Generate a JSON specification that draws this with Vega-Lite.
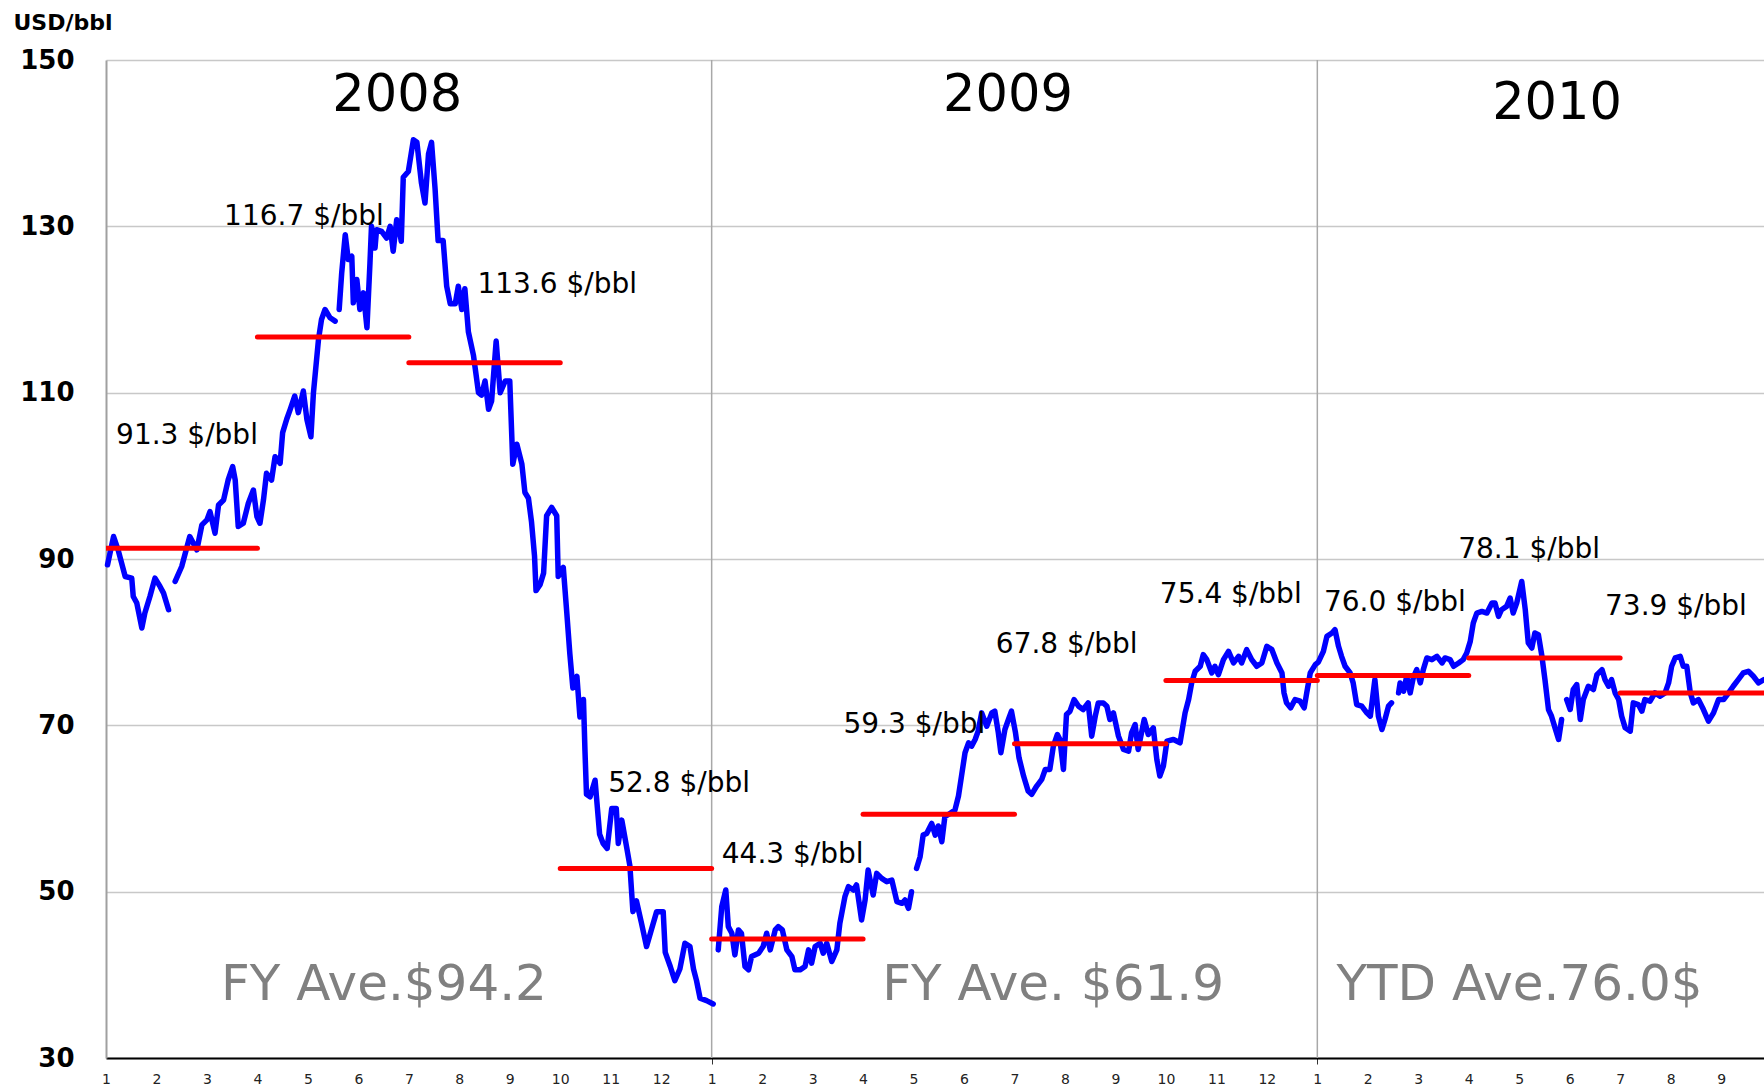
{
  "$schema": "https://vega.github.io/schema/vega-lite/v6.json",
  "width": 1658,
  "height": 998,
  "autosize": {"type": "none"},
  "padding": {"left": 106, "top": 60, "right": 0, "bottom": 30},
  "background": "white",
  "config": {"view": {"stroke": null}, "font": "DejaVu Sans"},
  "datasets": {
    "price": [
      {"m":0.03,"v":89.3,"s":1},{"m":0.15,"v":92.7,"s":1},{"m":0.24,"v":91.1,"s":1},{"m":0.38,"v":87.9,"s":1},{"m":0.51,"v":87.7,"s":1},{"m":0.54,"v":85.5,"s":1},{"m":0.61,"v":84.7,"s":1},{"m":0.71,"v":81.7,"s":1},{"m":0.77,"v":83.5,"s":1},{"m":0.87,"v":85.5,"s":1},{"m":0.97,"v":87.7,"s":1},{"m":1.07,"v":86.7,"s":1},{"m":1.14,"v":85.9,"s":1},{"m":1.24,"v":83.9,"s":1},
      {"m":1.37,"v":87.3,"s":2},{"m":1.50,"v":89.1,"s":2},{"m":1.66,"v":92.7,"s":2},{"m":1.80,"v":91.1,"s":2},{"m":1.90,"v":94.1,"s":2},{"m":2.00,"v":94.7,"s":2},{"m":2.06,"v":95.7,"s":2},{"m":2.16,"v":93.1,"s":2},{"m":2.23,"v":96.5,"s":2},{"m":2.33,"v":97.1,"s":2},{"m":2.42,"v":99.5,"s":2},{"m":2.51,"v":101.1,"s":2},{"m":2.56,"v":99.5,"s":2},{"m":2.62,"v":93.9,"s":2},{"m":2.72,"v":94.3,"s":2},{"m":2.82,"v":96.7,"s":2},{"m":2.92,"v":98.3,"s":2},{"m":2.99,"v":95.1,"s":2},{"m":3.05,"v":94.3,"s":2},{"m":3.12,"v":97.1,"s":2},{"m":3.18,"v":100.3,"s":2},{"m":3.28,"v":99.5,"s":2},{"m":3.35,"v":102.3,"s":2},{"m":3.45,"v":101.5,"s":2},{"m":3.50,"v":105.2,"s":2},{"m":3.58,"v":106.8,"s":2},{"m":3.65,"v":108.0,"s":2},{"m":3.74,"v":109.6,"s":2},{"m":3.81,"v":107.6,"s":2},{"m":3.91,"v":110.2,"s":2},{"m":3.98,"v":106.8,"s":2},{"m":4.06,"v":104.7,"s":2},{"m":4.11,"v":110.0,"s":2},{"m":4.21,"v":116.4,"s":2},{"m":4.27,"v":118.8,"s":2},{"m":4.34,"v":120.0,"s":2},{"m":4.44,"v":119.0,"s":2},{"m":4.54,"v":118.6,"s":2},
      {"m":4.62,"v":120.0,"s":3},{"m":4.67,"v":124.4,"s":3},{"m":4.74,"v":129.0,"s":3},{"m":4.80,"v":126.0,"s":3},{"m":4.87,"v":126.4,"s":3},{"m":4.90,"v":120.8,"s":3},{"m":4.97,"v":123.6,"s":3},{"m":5.03,"v":120.0,"s":3},{"m":5.10,"v":122.0,"s":3},{"m":5.17,"v":117.8,"s":3},{"m":5.23,"v":125.6,"s":3},{"m":5.26,"v":130.0,"s":3},{"m":5.33,"v":127.4,"s":3},{"m":5.36,"v":129.6,"s":3},{"m":5.46,"v":129.4,"s":3},{"m":5.56,"v":128.6,"s":3},{"m":5.63,"v":130.0,"s":3},{"m":5.69,"v":127.0,"s":3},{"m":5.76,"v":130.8,"s":3},{"m":5.80,"v":130.0,"s":3},{"m":5.85,"v":128.2,"s":3},{"m":5.89,"v":135.9,"s":3},{"m":5.99,"v":136.6,"s":3},{"m":6.09,"v":140.4,"s":3},{"m":6.16,"v":140.1,"s":3},{"m":6.25,"v":135.2,"s":3},{"m":6.32,"v":132.8,"s":3},{"m":6.39,"v":138.7,"s":3},{"m":6.45,"v":140.1,"s":3},{"m":6.52,"v":134.5,"s":3},{"m":6.58,"v":128.3,"s":3},{"m":6.68,"v":128.3,"s":3},{"m":6.75,"v":122.8,"s":3},{"m":6.82,"v":120.7,"s":3},{"m":6.92,"v":120.7,"s":3},{"m":6.98,"v":122.8,"s":3},{"m":7.05,"v":120.0,"s":3},{"m":7.11,"v":122.5,"s":3},{"m":7.18,"v":117.3,"s":3},{"m":7.28,"v":114.5,"s":3},{"m":7.38,"v":110.0,"s":3},{"m":7.44,"v":109.7,"s":3},{"m":7.51,"v":111.4,"s":3},{"m":7.58,"v":108.0,"s":3},{"m":7.64,"v":109.0,"s":3},{"m":7.73,"v":116.2,"s":3},{"m":7.81,"v":110.0,"s":3},{"m":7.91,"v":111.4,"s":3},{"m":8.00,"v":111.4,"s":3},{"m":8.06,"v":101.4,"s":3},{"m":8.14,"v":103.8,"s":3},{"m":8.24,"v":101.4,"s":3},{"m":8.30,"v":98.0,"s":3},{"m":8.37,"v":97.3,"s":3},{"m":8.43,"v":94.5,"s":3},{"m":8.49,"v":90.4,"s":3},{"m":8.52,"v":86.2,"s":3},{"m":8.60,"v":86.9,"s":3},{"m":8.67,"v":88.3,"s":3},{"m":8.73,"v":95.2,"s":3},{"m":8.83,"v":96.2,"s":3},{"m":8.93,"v":95.2,"s":3},{"m":8.96,"v":87.9,"s":3},{"m":9.06,"v":89.0,"s":3},{"m":9.13,"v":83.5,"s":3},{"m":9.19,"v":78.6,"s":3},{"m":9.25,"v":74.5,"s":3},{"m":9.33,"v":75.9,"s":3},{"m":9.39,"v":71.0,"s":3},{"m":9.46,"v":73.1,"s":3},{"m":9.49,"v":66.9,"s":3},{"m":9.52,"v":61.7,"s":3},{"m":9.59,"v":61.4,"s":3},{"m":9.69,"v":63.4,"s":3},{"m":9.78,"v":56.9,"s":3},{"m":9.85,"v":55.8,"s":3},{"m":9.93,"v":55.2,"s":3},{"m":10.02,"v":60.0,"s":3},{"m":10.11,"v":60.0,"s":3},{"m":10.15,"v":55.8,"s":3},{"m":10.22,"v":58.6,"s":3},{"m":10.32,"v":55.2,"s":3},{"m":10.38,"v":53.1,"s":3},{"m":10.44,"v":47.6,"s":3},{"m":10.51,"v":48.9,"s":3},{"m":10.61,"v":46.2,"s":3},{"m":10.71,"v":43.4,"s":3},{"m":10.81,"v":45.5,"s":3},{"m":10.91,"v":47.6,"s":3},{"m":11.04,"v":47.6,"s":3},{"m":11.08,"v":42.7,"s":3},{"m":11.18,"v":41.0,"s":3},{"m":11.27,"v":39.3,"s":3},{"m":11.37,"v":40.7,"s":3},{"m":11.47,"v":43.8,"s":3},{"m":11.57,"v":43.4,"s":3},{"m":11.64,"v":40.7,"s":3},{"m":11.70,"v":39.3,"s":3},{"m":11.77,"v":37.2,"s":3},{"m":11.90,"v":36.9,"s":3},{"m":12.03,"v":36.5,"s":3},
      {"m":12.13,"v":43.0,"s":4},{"m":12.20,"v":48.2,"s":4},{"m":12.28,"v":50.2,"s":4},{"m":12.33,"v":45.8,"s":4},{"m":12.40,"v":45.0,"s":4},{"m":12.46,"v":42.4,"s":4},{"m":12.53,"v":45.4,"s":4},{"m":12.59,"v":45.0,"s":4},{"m":12.66,"v":41.0,"s":4},{"m":12.73,"v":40.6,"s":4},{"m":12.79,"v":42.2,"s":4},{"m":12.93,"v":42.6,"s":4},{"m":13.02,"v":43.4,"s":4},{"m":13.09,"v":45.0,"s":4},{"m":13.16,"v":43.0,"s":4},{"m":13.26,"v":45.4,"s":4},{"m":13.32,"v":45.8,"s":4},{"m":13.40,"v":45.4,"s":4},{"m":13.49,"v":43.0,"s":4},{"m":13.59,"v":42.2,"s":4},{"m":13.65,"v":40.6,"s":4},{"m":13.75,"v":40.6,"s":4},{"m":13.85,"v":41.0,"s":4},{"m":13.92,"v":43.0,"s":4},{"m":13.98,"v":41.4,"s":4},{"m":14.05,"v":43.4,"s":4},{"m":14.15,"v":43.8,"s":4},{"m":14.21,"v":42.6,"s":4},{"m":14.28,"v":43.8,"s":4},{"m":14.38,"v":41.6,"s":4},{"m":14.48,"v":43.0,"s":4},{"m":14.54,"v":46.2,"s":4},{"m":14.64,"v":49.4,"s":4},{"m":14.71,"v":50.6,"s":4},{"m":14.81,"v":50.2,"s":4},{"m":14.87,"v":50.8,"s":4},{"m":14.97,"v":46.6,"s":4},{"m":15.04,"v":49.0,"s":4},{"m":15.10,"v":52.6,"s":4},{"m":15.20,"v":49.6,"s":4},{"m":15.27,"v":52.2,"s":4},{"m":15.37,"v":51.6,"s":4},{"m":15.47,"v":51.2,"s":4},{"m":15.57,"v":51.4,"s":4},{"m":15.67,"v":48.8,"s":4},{"m":15.77,"v":48.6,"s":4},{"m":15.83,"v":49.0,"s":4},{"m":15.90,"v":48.0,"s":4},{"m":15.96,"v":50.0,"s":4},
      {"m":16.06,"v":52.8,"s":5},{"m":16.13,"v":54.2,"s":5},{"m":16.19,"v":56.8,"s":5},{"m":16.26,"v":57.0,"s":5},{"m":16.36,"v":58.2,"s":5},{"m":16.43,"v":56.8,"s":5},{"m":16.49,"v":57.9,"s":5},{"m":16.56,"v":56.0,"s":5},{"m":16.62,"v":59.0,"s":5},{"m":16.72,"v":59.4,"s":5},{"m":16.82,"v":59.8,"s":5},{"m":16.89,"v":61.5,"s":5},{"m":16.95,"v":63.9,"s":5},{"m":17.02,"v":66.7,"s":5},{"m":17.09,"v":67.9,"s":5},{"m":17.15,"v":67.5,"s":5},{"m":17.22,"v":68.3,"s":5},{"m":17.28,"v":69.3,"s":5},{"m":17.35,"v":71.5,"s":5},{"m":17.45,"v":69.9,"s":5},{"m":17.55,"v":71.5,"s":5},{"m":17.61,"v":71.7,"s":5},{"m":17.68,"v":69.1,"s":5},{"m":17.73,"v":66.7,"s":5},{"m":17.81,"v":69.5,"s":5},{"m":17.88,"v":70.7,"s":5},{"m":17.94,"v":71.7,"s":5},{"m":18.02,"v":69.1,"s":5},{"m":18.09,"v":66.1,"s":5},{"m":18.18,"v":63.9,"s":5},{"m":18.27,"v":62.1,"s":5},{"m":18.34,"v":61.7,"s":5},{"m":18.44,"v":62.7,"s":5},{"m":18.54,"v":63.5,"s":5},{"m":18.61,"v":64.7,"s":5},{"m":18.70,"v":64.7,"s":5},{"m":18.77,"v":67.5,"s":5},{"m":18.85,"v":68.9,"s":5},{"m":18.90,"v":68.3,"s":5},{"m":18.97,"v":64.7,"s":5},{"m":19.03,"v":71.3,"s":5},{"m":19.10,"v":71.7,"s":5},{"m":19.18,"v":73.1,"s":5},{"m":19.27,"v":72.3,"s":5},{"m":19.36,"v":71.9,"s":5},{"m":19.46,"v":72.7,"s":5},{"m":19.53,"v":68.7,"s":5},{"m":19.60,"v":71.1,"s":5},{"m":19.66,"v":72.7,"s":5},{"m":19.76,"v":72.7,"s":5},{"m":19.83,"v":72.3,"s":5},{"m":19.89,"v":70.7,"s":5},{"m":19.96,"v":71.5,"s":5},{"m":20.06,"v":68.7,"s":5},{"m":20.16,"v":67.1,"s":5},{"m":20.26,"v":66.9,"s":5},{"m":20.32,"v":69.1,"s":5},{"m":20.39,"v":70.1,"s":5},{"m":20.45,"v":67.1,"s":5},{"m":20.57,"v":70.7,"s":5},{"m":20.65,"v":68.9,"s":5},{"m":20.75,"v":69.7,"s":5},{"m":20.82,"v":65.9,"s":5},{"m":20.88,"v":63.9,"s":5},{"m":20.95,"v":65.1,"s":5},{"m":21.02,"v":68.1,"s":5},{"m":21.15,"v":68.3,"s":5},{"m":21.28,"v":67.9,"s":5},{"m":21.38,"v":71.5,"s":5},{"m":21.45,"v":73.1,"s":5},{"m":21.51,"v":75.1,"s":5},{"m":21.58,"v":76.5,"s":5},{"m":21.68,"v":77.1,"s":5},{"m":21.74,"v":78.5,"s":5},{"m":21.81,"v":77.9,"s":5},{"m":21.91,"v":76.3,"s":5},{"m":21.97,"v":77.1,"s":5},{"m":22.04,"v":76.1,"s":5},{"m":22.14,"v":77.9,"s":5},{"m":22.24,"v":78.9,"s":5},{"m":22.34,"v":77.5,"s":5},{"m":22.44,"v":78.3,"s":5},{"m":22.50,"v":77.5,"s":5},{"m":22.60,"v":79.1,"s":5},{"m":22.70,"v":77.9,"s":5},{"m":22.80,"v":77.1,"s":5},{"m":22.90,"v":77.5,"s":5},{"m":23.00,"v":79.5,"s":5},{"m":23.10,"v":79.1,"s":5},{"m":23.20,"v":77.5,"s":5},{"m":23.30,"v":76.3,"s":5},{"m":23.34,"v":73.9,"s":5},{"m":23.39,"v":72.7,"s":5},{"m":23.47,"v":72.1,"s":5},{"m":23.56,"v":73.1,"s":5},{"m":23.66,"v":72.9,"s":5},{"m":23.74,"v":72.1,"s":5},{"m":23.79,"v":73.9,"s":5},{"m":23.86,"v":76.3,"s":5},{"m":23.96,"v":77.3,"s":5},{"m":24.02,"v":77.6,"s":5},{"m":24.12,"v":78.9,"s":5},{"m":24.19,"v":80.7,"s":5},{"m":24.29,"v":81.1,"s":5},{"m":24.35,"v":81.5,"s":5},{"m":24.42,"v":79.5,"s":5},{"m":24.48,"v":78.3,"s":5},{"m":24.55,"v":77.1,"s":5},{"m":24.65,"v":76.3,"s":5},{"m":24.71,"v":75.1,"s":5},{"m":24.78,"v":72.5,"s":5},{"m":24.88,"v":72.3,"s":5},{"m":24.98,"v":71.5,"s":5},{"m":25.05,"v":71.1,"s":5},{"m":25.14,"v":75.5,"s":5},{"m":25.21,"v":71.1,"s":5},{"m":25.28,"v":69.5,"s":5},{"m":25.34,"v":70.7,"s":5},{"m":25.41,"v":72.3,"s":5},{"m":25.47,"v":72.7,"s":5},
      {"m":25.61,"v":73.9,"s":6},{"m":25.64,"v":75.1,"s":6},{"m":25.71,"v":74.1,"s":6},{"m":25.77,"v":75.9,"s":6},{"m":25.84,"v":73.9,"s":6},{"m":25.90,"v":75.7,"s":6},{"m":25.97,"v":76.7,"s":6},{"m":26.04,"v":75.1,"s":6},{"m":26.10,"v":76.7,"s":6},{"m":26.17,"v":78.1,"s":6},{"m":26.27,"v":77.9,"s":6},{"m":26.37,"v":78.3,"s":6},{"m":26.47,"v":77.5,"s":6},{"m":26.53,"v":78.1,"s":6},{"m":26.63,"v":77.9,"s":6},{"m":26.70,"v":77.1,"s":6},{"m":26.80,"v":77.5,"s":6},{"m":26.89,"v":77.9,"s":6},{"m":26.96,"v":78.7,"s":6},{"m":27.03,"v":80.1,"s":6},{"m":27.09,"v":82.3,"s":6},{"m":27.16,"v":83.5,"s":6},{"m":27.26,"v":83.7,"s":6},{"m":27.36,"v":83.5,"s":6},{"m":27.46,"v":84.7,"s":6},{"m":27.52,"v":84.7,"s":6},{"m":27.59,"v":83.1,"s":6},{"m":27.65,"v":83.9,"s":6},{"m":27.75,"v":84.3,"s":6},{"m":27.82,"v":85.3,"s":6},{"m":27.88,"v":83.5,"s":6},{"m":27.95,"v":84.7,"s":6},{"m":28.05,"v":87.3,"s":6},{"m":28.12,"v":83.9,"s":6},{"m":28.18,"v":79.9,"s":6},{"m":28.25,"v":79.3,"s":6},{"m":28.31,"v":81.1,"s":6},{"m":28.38,"v":80.9,"s":6},{"m":28.45,"v":78.3,"s":6},{"m":28.51,"v":75.5,"s":6},{"m":28.58,"v":71.9,"s":6},{"m":28.64,"v":71.1,"s":6},{"m":28.71,"v":69.7,"s":6},{"m":28.78,"v":68.3,"s":6},{"m":28.84,"v":70.7,"s":6},
      {"m":28.94,"v":73.1,"s":7},{"m":29.01,"v":71.9,"s":7},{"m":29.07,"v":74.3,"s":7},{"m":29.14,"v":74.9,"s":7},{"m":29.21,"v":70.7,"s":7},{"m":29.27,"v":73.1,"s":7},{"m":29.37,"v":74.7,"s":7},{"m":29.47,"v":74.3,"s":7},{"m":29.54,"v":76.1,"s":7},{"m":29.64,"v":76.7,"s":7},{"m":29.70,"v":75.5,"s":7},{"m":29.77,"v":74.7,"s":7},{"m":29.83,"v":75.5,"s":7},{"m":29.90,"v":73.9,"s":7},{"m":29.97,"v":73.1,"s":7},{"m":30.03,"v":71.1,"s":7},{"m":30.10,"v":69.7,"s":7},{"m":30.20,"v":69.3,"s":7},{"m":30.26,"v":72.7,"s":7},{"m":30.36,"v":72.5,"s":7},{"m":30.43,"v":71.7,"s":7},{"m":30.49,"v":73.1,"s":7},{"m":30.59,"v":72.9,"s":7},{"m":30.69,"v":73.9,"s":7},{"m":30.79,"v":73.5,"s":7},{"m":30.89,"v":73.9,"s":7},{"m":30.96,"v":75.1,"s":7},{"m":31.02,"v":77.1,"s":7},{"m":31.09,"v":78.1,"s":7},{"m":31.19,"v":78.3,"s":7},{"m":31.25,"v":77.1,"s":7},{"m":31.32,"v":77.1,"s":7},{"m":31.39,"v":73.9,"s":7},{"m":31.45,"v":72.7,"s":7},{"m":31.55,"v":73.1,"s":7},{"m":31.65,"v":71.9,"s":7},{"m":31.75,"v":70.5,"s":7},{"m":31.85,"v":71.5,"s":7},{"m":31.95,"v":73.1,"s":7},{"m":32.05,"v":73.1,"s":7},{"m":32.15,"v":73.9,"s":7},{"m":32.24,"v":74.7,"s":7},{"m":32.34,"v":75.5,"s":7},{"m":32.44,"v":76.3,"s":7},{"m":32.54,"v":76.5,"s":7},{"m":32.64,"v":75.9,"s":7},{"m":32.74,"v":75.1,"s":7},{"m":32.85,"v":75.5,"s":7}
    ],
    "quarters": [
      {"start":0,"end":3,"avg":91.3},{"start":3,"end":6,"avg":116.7},{"start":6,"end":9,"avg":113.6},{"start":9,"end":12,"avg":52.8},
      {"start":12,"end":15,"avg":44.3},{"start":15,"end":18,"avg":59.3},{"start":18,"end":21,"avg":67.8},{"start":21,"end":24,"avg":75.4},
      {"start":24,"end":27,"avg":76.0},{"start":27,"end":30,"avg":78.1},{"start":30,"end":33,"avg":73.9}
    ],
    "qlabels": [
      {"m":0.2,"v":104.75,"label":"91.3 $/bbl"},{"m":2.34,"v":131.1,"label":"116.7 $/bbl"},{"m":7.36,"v":122.95,"label":"113.6 $/bbl"},{"m":9.95,"v":62.9,"label":"52.8 $/bbl"},
      {"m":12.2,"v":54.4,"label":"44.3 $/bbl"},{"m":14.61,"v":70.1,"label":"59.3 $/bbl"},{"m":17.63,"v":79.7,"label":"67.8 $/bbl"},{"m":20.88,"v":85.7,"label":"75.4 $/bbl"},
      {"m":24.13,"v":84.7,"label":"76.0 $/bbl"},{"m":26.79,"v":91.1,"label":"78.1 $/bbl"},{"m":29.7,"v":84.2,"label":"73.9 $/bbl"}
    ],
    "years": [
      {"m":5.77,"v":145.7,"label":"2008"},{"m":17.87,"v":145.7,"label":"2009"},{"m":28.75,"v":144.7,"label":"2010"}
    ],
    "fy": [
      {"m":2.28,"v":38.8,"label":"FY Ave.$94.2"},{"m":15.38,"v":38.8,"label":"FY Ave. $61.9"},{"m":24.38,"v":38.8,"label":"YTD Ave.76.0$"}
    ],
    "yearlines": [{"m":12},{"m":24}]
  },
  "layer": [
    {
      "data": {"name": "yearlines"},
      "mark": {"type": "rule", "color": "#a8a8a8", "strokeWidth": 1.5},
      "encoding": {
        "x": {"field": "m", "type": "quantitative",
          "scale": {"domain": [0, 32.85], "nice": false, "zero": false},
          "axis": {
            "values": [0,1,2,3,4,5,6,7,8,9,10,11,12,13,14,15,16,17,18,19,20,21,22,23,24,25,26,27,28,29,30,31,32],
            "labelExpr": "'' + ((round(datum.value) % 12) + 1)",
            "title": null, "grid": false,
            "labelFont": "DejaVu Sans", "labelFontSize": 14, "labelColor": "#222",
            "labelFlush": false, "labelOverlap": false, "labelPadding": 8,
            "tickSize": 6,
            "tickColor": {"condition": {"test": "datum.value % 12 === 0 && datum.value > 0", "value": "#333"}, "value": "transparent"},
            "domainColor": "#000", "domainWidth": 2
          }
        },
        "y": {"datum": 30, "type": "quantitative"},
        "y2": {"datum": 150}
      }
    },
    {
      "data": {"name": "price"},
      "mark": {"type": "line", "color": "#0000ff", "strokeWidth": 5.5, "strokeJoin": "round", "strokeCap": "round"},
      "encoding": {
        "x": {"field": "m", "type": "quantitative"},
        "y": {"field": "v", "type": "quantitative",
          "scale": {"domain": [30, 150], "nice": false, "zero": false},
          "axis": {
            "values": [30,50,70,90,110,130,150],
            "title": "USD/bbl", "titleAngle": 0, "titleAlign": "left", "titleBaseline": "middle",
            "titleX": -93, "titleY": -38, "titleFont": "DejaVu Sans", "titleFontWeight": "bold", "titleFontSize": 22, "titleColor": "#000",
            "grid": true, "gridColor": "#c8c8c8", "gridWidth": 1.5,
            "ticks": false, "labelPadding": 32,
            "labelFont": "DejaVu Sans", "labelFontWeight": "bold", "labelFontSize": 26, "labelColor": "#000",
            "domainColor": "#a0a0a0", "domainWidth": 2
          }
        },
        "detail": {"field": "s", "type": "nominal"}
      }
    },
    {
      "data": {"name": "quarters"},
      "mark": {"type": "rule", "color": "#ff0000", "strokeWidth": 5, "strokeCap": "round", "clip": true},
      "encoding": {
        "x": {"field": "start", "type": "quantitative"},
        "x2": {"field": "end"},
        "y": {"field": "avg", "type": "quantitative"}
      }
    },
    {
      "data": {"name": "qlabels"},
      "mark": {"type": "text", "font": "DejaVu Sans", "fontSize": 28, "align": "left", "baseline": "middle", "color": "#000"},
      "encoding": {
        "x": {"field": "m", "type": "quantitative"},
        "y": {"field": "v", "type": "quantitative"},
        "text": {"field": "label"}
      }
    },
    {
      "data": {"name": "years"},
      "mark": {"type": "text", "font": "DejaVu Sans", "fontSize": 51, "align": "center", "baseline": "middle", "color": "#000"},
      "encoding": {
        "x": {"field": "m", "type": "quantitative"},
        "y": {"field": "v", "type": "quantitative"},
        "text": {"field": "label"}
      }
    },
    {
      "data": {"name": "fy"},
      "mark": {"type": "text", "font": "DejaVu Sans", "fontSize": 50, "align": "left", "baseline": "middle", "color": "#808080"},
      "encoding": {
        "x": {"field": "m", "type": "quantitative"},
        "y": {"field": "v", "type": "quantitative"},
        "text": {"field": "label"}
      }
    }
  ]
}
